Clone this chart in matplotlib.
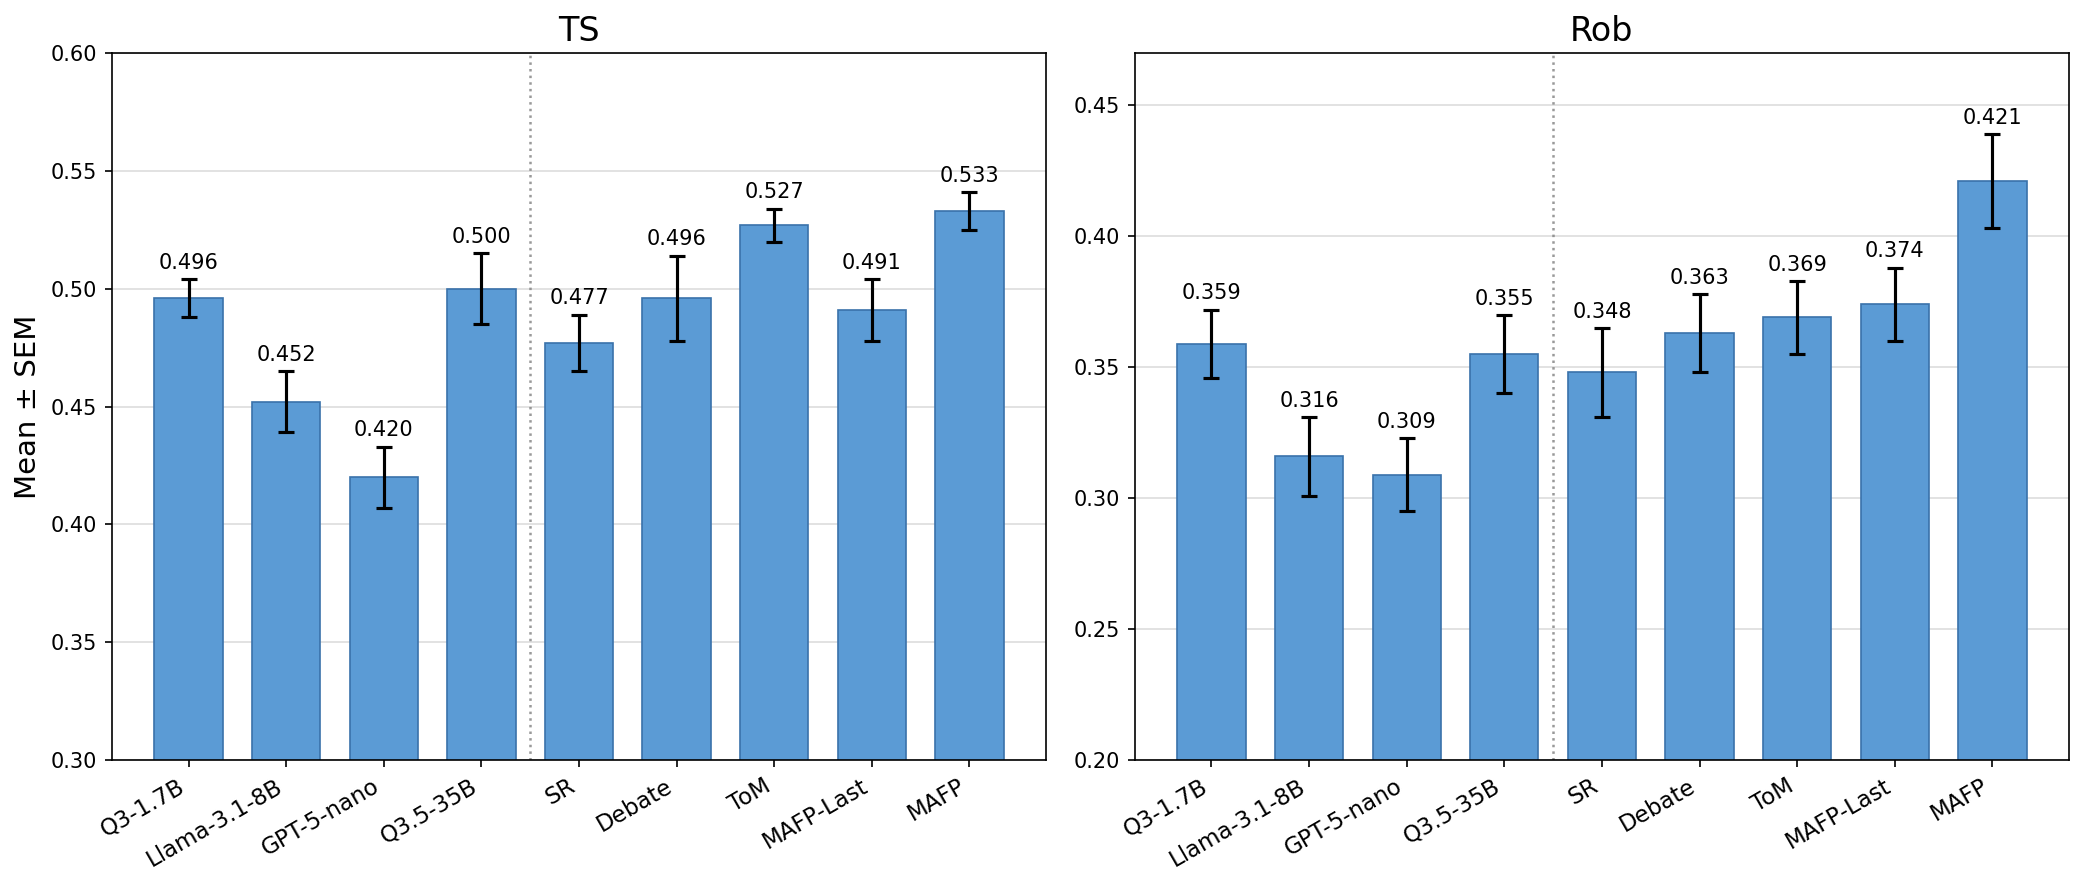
import numpy as np
import matplotlib
matplotlib.use('Agg')
import matplotlib.pyplot as plt

methods = ['Q3-1.7B', 'Llama-3.1-8B', 'GPT-5-nano', 'Q3.5-35B',
           'SR', 'Debate', 'ToM', 'MAFP-Last', 'MAFP']

ts_mean = [0.496, 0.452, 0.420, 0.500, 0.477, 0.496, 0.527, 0.491, 0.533]
ts_sem = [0.008, 0.013, 0.013, 0.015, 0.012, 0.018, 0.007, 0.013, 0.008]

rob_mean = [0.359, 0.316, 0.309, 0.355, 0.348, 0.363, 0.369, 0.374, 0.421]
rob_sem = [0.013, 0.015, 0.014, 0.015, 0.017, 0.015, 0.014, 0.014, 0.018]

panels = [
    ('TS', ts_mean, ts_sem, (0.30, 0.60), np.arange(0.30, 0.601, 0.05)),
    ('Rob', rob_mean, rob_sem, (0.20, 0.47), np.arange(0.20, 0.451, 0.05)),
]

fig, axes = plt.subplots(1, 2, figsize=(2084 / 150, 887 / 150), dpi=150)
fig.subplots_adjust(left=0.0537, right=0.9928, bottom=0.1432, top=0.9402, wspace=0.095)

xs = np.arange(len(methods))
for ax, (title, mean, sem, ylim, yticks) in zip(axes, panels):
    ax.bar(xs, mean, 0.7, color='#5b9bd5', edgecolor='#3a72aa', linewidth=0.8,
           yerr=sem, capsize=4, error_kw=dict(elinewidth=1.5, capthick=1.5, ecolor='black'),
           zorder=2)
    for x, m, s in zip(xs, mean, sem):
        ax.annotate(f'{m:.3f}', (x, m + s), xytext=(0, 3), textcoords='offset points',
                    ha='center', va='bottom', fontsize=10)
    ax.axvline(3.5, color='grey', linestyle=':', linewidth=1.2, alpha=0.8, zorder=1)
    ax.set_ylim(*ylim)
    ax.set_yticks(yticks)
    ax.set_yticklabels([f'{t:.2f}' for t in yticks])
    ax.set_xticks(xs)
    ax.set_xticklabels(methods, rotation=30, ha='right', fontsize=11)
    ax.tick_params(axis='y', labelsize=10)
    ax.yaxis.grid(True, color='#dddddd', linewidth=0.8, zorder=0)
    ax.set_axisbelow(True)
    ax.set_title(title, fontsize=16)

axes[0].set_ylabel('Mean ± SEM', fontsize=14)

fig.savefig('out.png', dpi=150)
